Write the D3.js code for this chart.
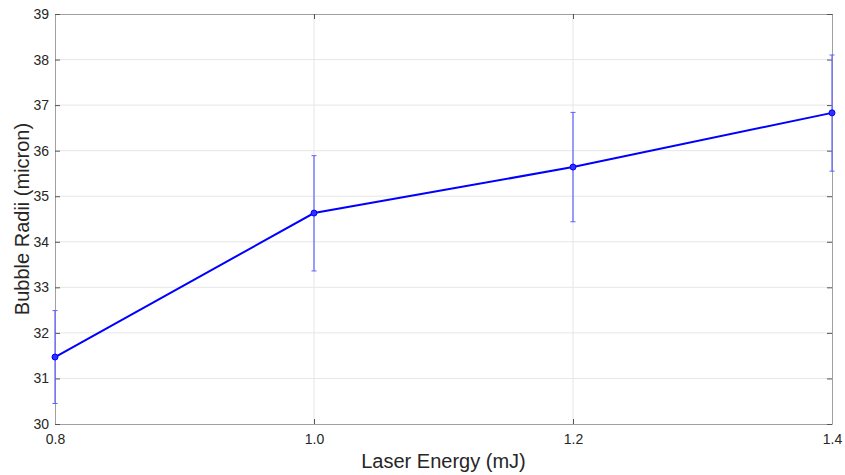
<!DOCTYPE html>
<html>
<head>
<meta charset="utf-8">
<script src="https://cdn.jsdelivr.net/npm/d3@7"></script>
<style>
body { margin: 0; background: #fff; }
text { font-family: "Liberation Sans", Arial, Helvetica, sans-serif; }
</style>
</head>
<body>
<div class="canvas"></div>
<script>
// data
const energy = [0.8, 1.0, 1.2, 1.4]
const radius = [31.47, 34.63, 35.64, 36.83]
const errLow = [1.02, 1.27, 1.2, 1.28]
const errHigh = [1.02, 1.26, 1.2, 1.27]
const xTicks = [0.8, 1.0, 1.2, 1.4]
const yTicks = [30, 31, 32, 33, 34, 35, 36, 37, 38, 39]

const W = 845, H = 475
const margin = { top: 14, right: 13, bottom: 51, left: 55 }
const graphWidth = W - margin.left - margin.right
const graphHeight = H - margin.top - margin.bottom

const svg = d3.select('.canvas')
    .append('svg')
    .attr('width', W)
    .attr('height', H)

const graph = svg.append('g')
    .attr('transform', `translate(${margin.left},${margin.top})`)

// scales
const x = d3.scaleLinear().domain([0.8, 1.4]).range([0, graphWidth])
const y = d3.scaleLinear().domain([30, 39]).range([graphHeight, 0])

// grid
graph.append('g').selectAll('line.gy')
    .data(yTicks.slice(1, -1))
    .enter().append('line')
    .attr('x1', 0).attr('x2', graphWidth)
    .attr('y1', d => y(d)).attr('y2', d => y(d))
    .attr('stroke', '#e6e6e6').attr('stroke-width', 1)
graph.append('g').selectAll('line.gx')
    .data(xTicks.slice(1, -1))
    .enter().append('line')
    .attr('x1', d => x(d)).attr('x2', d => x(d))
    .attr('y1', 0).attr('y2', graphHeight)
    .attr('stroke', '#e6e6e6').attr('stroke-width', 1)

// axes (ticks pointing inside, box on all sides)
const axisColor = '#262626'
const xAxis = graph.append('g')
    .attr('transform', `translate(0,${graphHeight})`)
    .call(d3.axisBottom(x).tickValues(xTicks).tickFormat(d3.format('.1f')).tickSizeInner(-5).tickSizeOuter(0).tickPadding(10))
const xTop = graph.append('g')
    .call(d3.axisTop(x).tickValues(xTicks).tickFormat('').tickSizeInner(-5).tickSizeOuter(0))
const yAxis = graph.append('g')
    .call(d3.axisLeft(y).tickValues(yTicks).tickSizeInner(-5).tickSizeOuter(0).tickPadding(6))
const yRight = graph.append('g')
    .attr('transform', `translate(${graphWidth},0)`)
    .call(d3.axisRight(y).tickValues(yTicks).tickFormat('').tickSizeInner(-5).tickSizeOuter(0))

;[xAxis, xTop, yAxis, yRight].forEach(g => {
    g.select('.domain').attr('stroke', '#a0a0a0')
    g.selectAll('.tick line').attr('stroke', '#555')
    g.selectAll('.tick text')
        .attr('fill', axisColor)
        .style('font-size', '14px')
})

// error bars
const eb = graph.append('g')
energy.forEach((e, i) => {
    const cx = x(e)
    const yt = y(radius[i] + errHigh[i])
    const yb = y(radius[i] - errLow[i])
    eb.append('line')
        .attr('x1', cx).attr('x2', cx)
        .attr('y1', yt).attr('y2', yb)
        .attr('stroke', '#6060ff').attr('stroke-width', 1.2)
    ;[yt, yb].forEach(yy => {
        eb.append('line')
            .attr('x1', cx - 2.5).attr('x2', cx + 2.5)
            .attr('y1', yy).attr('y2', yy)
            .attr('stroke', '#6060ff').attr('stroke-width', 1)
    })
})

// line
const line = d3.line()
    .x((d, i) => x(energy[i]))
    .y(d => y(d))
graph.append('path')
    .datum(radius)
    .attr('d', line)
    .attr('fill', 'none')
    .attr('stroke', '#0000ff')
    .attr('stroke-width', 2)

graph.append('g').selectAll('circle')
    .data(radius)
    .enter().append('circle')
    .attr('cx', (d, i) => x(energy[i]))
    .attr('cy', d => y(d))
    .attr('r', 3)
    .attr('fill', '#3030ff')
    .attr('stroke', '#0000ff')
    .attr('stroke-width', 1)

// labels
svg.append('text')
    .attr('x', margin.left + graphWidth / 2)
    .attr('y', 468)
    .attr('text-anchor', 'middle')
    .attr('fill', axisColor)
    .style('font-size', '20px')
    .text('Laser Energy (mJ)')

svg.append('text')
    .attr('transform', `translate(29,${margin.top + graphHeight / 2}) rotate(-90)`)
    .attr('text-anchor', 'middle')
    .attr('fill', axisColor)
    .style('font-size', '20px')
    .text('Bubble Radii (micron)')
</script>
</body>
</html>
